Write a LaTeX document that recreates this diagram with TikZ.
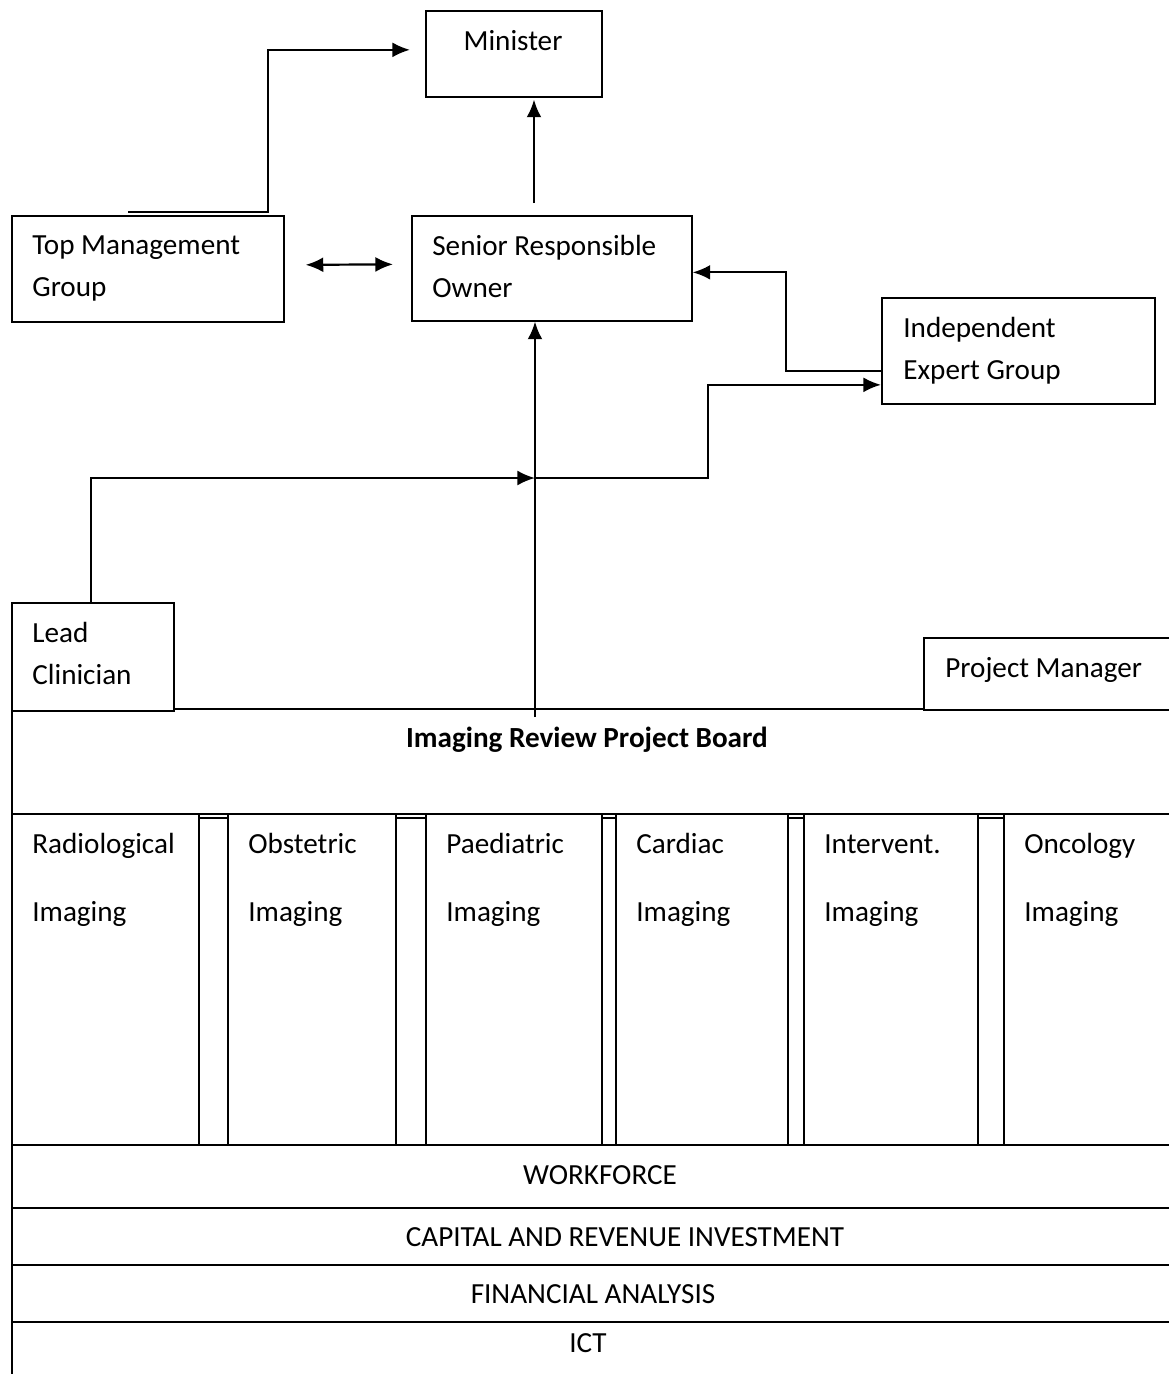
\documentclass[tikz,border=0pt]{standalone}
\usepackage{fontspec}
\setmainfont{Carlito}
\usetikzlibrary{arrows.meta,fit,positioning}
\newdimen\px \px=0.02cm
\newcommand{\boxfont}{\fontsize{16.6}{23.9}\selectfont}

\begin{document}
\begin{tikzpicture}[x=0.02cm,y=-0.02cm,>={Latex[length=10pt,width=8.5pt]},
      box/.style={draw,line width=0.95pt,inner sep=0pt,anchor=north west},
      boxtext/.style={anchor=north west,align=left,inner sep=0pt,font=\boxfont},
      link/.style={line width=1.25pt},
      coltext/.style={anchor=base west,align=left,inner sep=0pt,font=\fontsize{16.6}{38.7}\selectfont},
      bandtext/.style={inner sep=0pt,font=\boxfont}]
 \useasboundingbox (0,0) rectangle (1169,1374);
 \clip (0,0) rectangle (1169,1374);

 % upper boxes
 \node[box, minimum width=176\px, minimum height=86\px] (min) at (425,10) {};
 \node[anchor=base, inner sep=0pt, font=\boxfont] (mintext) at (513,50) {Minister};
 \node[box, minimum width=272\px, minimum height=106\px] (tmg) at (11,215) {};
 \node[box, minimum width=280\px, minimum height=105\px] (sro) at (411,215) {};
 \node[box, minimum width=273\px, minimum height=106\px] (ieg) at (881,297) {};
 \node[boxtext] (tmgt) at ([shift={(21,20)}]tmg.north west) {Top Management\\Group};
 \node[boxtext] (srot) at ([shift={(21,20)}]sro.north west) {Senior Responsible\\Owner};
 \node[boxtext] (iegt) at ([shift={(22,20)}]ieg.north west) {Independent\\Expert Group};

 % project board
 \node[box, minimum width=1169\px, minimum height=105\px] (board) at (11,708) {};
 \node[anchor=base, inner sep=0pt, font=\boxfont\bfseries] (boardtitle) at (587,747) {Imaging Review Project Board};
 \node[box, fill=white, minimum width=162\px, minimum height=108\px] (lc) at (11,602) {};
 \node[box, fill=white, minimum width=257\px, minimum height=72\px] (pm) at (923,637) {};
 \node[boxtext] (lct) at ([shift={(21,20)}]lc.north west) {Lead\\Clinician};
 \node[boxtext] (pmt) at ([shift={(22,20)}]pm.north west) {Project Manager};

 % imaging columns
 \node[box, minimum width=187\px, minimum height=331\px] (radio) at (11,813) {};
 \node[box, minimum width=29\px, minimum height=327\px] (gap1) at (198,817) {};
 \node[box, minimum width=168\px, minimum height=331\px] (obst) at (227,813) {};
 \node[box, minimum width=30\px, minimum height=327\px] (gap2) at (395,817) {};
 \node[box, minimum width=176\px, minimum height=331\px] (paed) at (425,813) {};
 \node[box, minimum width=14\px, minimum height=327\px] (gap3) at (601,817) {};
 \node[box, minimum width=172\px, minimum height=331\px] (card) at (615,813) {};
 \node[box, minimum width=16\px, minimum height=327\px] (gap4) at (787,817) {};
 \node[box, minimum width=174\px, minimum height=331\px] (interv) at (803,813) {};
 \node[box, minimum width=26\px, minimum height=327\px] (gap5) at (977,817) {};
 \node[box, minimum width=177\px, minimum height=331\px] (onco) at (1003,813) {};
 \node[coltext] (radiot) at ([shift={(21,108)}]radio.north west) {Radiological\\Imaging};
 \node[coltext] (obstt) at ([shift={(21,108)}]obst.north west) {Obstetric\\Imaging};
 \node[coltext] (paedt) at ([shift={(21,108)}]paed.north west) {Paediatric\\Imaging};
 \node[coltext] (cardt) at ([shift={(21,108)}]card.north west) {Cardiac\\Imaging};
 \node[coltext] (intervt) at ([shift={(21,108)}]interv.north west) {Intervent.\\Imaging};
 \node[coltext] (oncot) at ([shift={(21,108)}]onco.north west) {Oncology\\Imaging};

 % bands
 \node[box, minimum width=1169\px, minimum height=63\px] (work) at (11,1144) {};
 \node[box, minimum width=1169\px, minimum height=57\px] (capital) at (11,1207) {};
 \node[box, minimum width=1169\px, minimum height=57\px] (finance) at (11,1264) {};
 \node[box, minimum width=1169\px, minimum height=69\px] (ict) at (11,1321) {};
 \node[bandtext] (workt) at (600,1175) {WORKFORCE};
 \node[bandtext] (capitalt) at (625,1237) {CAPITAL AND REVENUE INVESTMENT};
 \node[bandtext] (financet) at (593,1294) {FINANCIAL ANALYSIS};
 \node[bandtext] (ictt) at (588,1343) {ICT};

 % connectors
 \coordinate (tmgout) at (128,212);
 \coordinate (srotop) at (534,203);
 \coordinate (boardtop) at (535,717);
 \coordinate (junc) at (535,478);
 \draw[link,->,shorten >=15\px] (tmgout) -- ++(140,0) |- ([shift={(0,-4)}]min.west);
 \draw[link,->,shorten >=2\px] (srotop) -- (srotop |- min.south);
 \draw[link,<->] ([shift={(21,-4)}]tmg.east) -- ([shift={(-18,-4)}]sro.west);
 \draw[link,->] (boardtop) -- (boardtop |- sro.south);
 \draw[link,->] ([shift={(-2,0)}]lc.north) |- (junc);
 \draw[link,->] (junc) -- ++(173,0) |- ([shift={(0,34)}]ieg.west);
 \draw[link,->] ([shift={(0,20)}]ieg.west) -- ++(-95,0) |- ([shift={(0,4)}]sro.east);
\end{tikzpicture}
\end{document}
